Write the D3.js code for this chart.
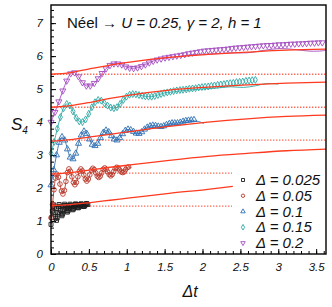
<!DOCTYPE html>
<html>
<head>
<meta charset="utf-8">
<script src="https://cdn.jsdelivr.net/npm/d3@7"></script>
<style>
  html, body { margin: 0; padding: 0; background: #fff; }
  svg { display: block; font-family: "Liberation Sans", Arial, Helvetica, sans-serif; }
</style>
</head>
<body>
<svg id="chart" width="332" height="307"></svg>
<script>
// Legend labels, colours and sampling step of each run
const deltas = ['0.025', '0.05', '0.1', '0.15', '0.2'];
const colors = ['#1c1c1c', '#b8392b', '#2f6fb3', '#2ea8a4', '#a44cbf'];
const timeSteps = [0.009, 0.0197, 0.0363, 0.0415, 0.0519];

// S_4 values (one value per time step)
const s025 = [0.9, 1.1, 1.3, 1.45, 1.49, 1.42, 1.26, 1.09, 1.02, 1.09, 1.26, 1.43, 1.5, 1.45,
  1.33, 1.21, 1.16, 1.21, 1.34, 1.46, 1.51, 1.47, 1.39, 1.31, 1.27, 1.31, 1.39, 1.47, 1.51,
  1.48, 1.43, 1.37, 1.34, 1.37, 1.43, 1.49, 1.52, 1.5, 1.46, 1.42, 1.4, 1.42, 1.46, 1.5,
  1.52, 1.51, 1.48, 1.45, 1.44, 1.45, 1.48, 1.51, 1.53, 1.52, 1.5];
const s05 = [1.1, 1.5, 1.95, 2.3, 2.42, 2.33, 2.12, 1.91, 1.82, 1.93, 2.2, 2.47, 2.58, 2.51,
  2.34, 2.17, 2.1, 2.17, 2.34, 2.51, 2.58, 2.52, 2.4, 2.27, 2.21, 2.27, 2.4, 2.54, 2.6,
  2.56, 2.46, 2.36, 2.32, 2.36, 2.46, 2.57, 2.61, 2.57, 2.49, 2.41, 2.37, 2.41, 2.5, 2.59,
  2.63, 2.61, 2.55, 2.49, 2.47, 2.49, 2.56, 2.62, 2.64];
const s1 = [2.09, 2.55, 3.0, 3.38, 3.55, 3.45, 3.18, 2.93, 2.88, 3.05, 3.35, 3.6, 3.72, 3.65,
  3.48, 3.32, 3.28, 3.35, 3.52, 3.68, 3.75, 3.7, 3.58, 3.48, 3.45, 3.52, 3.64, 3.74, 3.78,
  3.76, 3.71, 3.66, 3.65, 3.7, 3.78, 3.84, 3.88, 3.9, 3.89, 3.87, 3.86, 3.88, 3.92, 3.95,
  3.97, 3.97, 3.97, 3.99, 4.02, 4.04, 4.05, 4.06, 4.07];
const s15 = [3.05, 3.4, 3.8, 4.15, 4.42, 4.55, 4.5, 4.32, 4.13, 4.02, 4.0, 4.08, 4.25, 4.45,
  4.6, 4.67, 4.65, 4.57, 4.5, 4.44, 4.42, 4.45, 4.55, 4.67, 4.77, 4.83, 4.85, 4.84, 4.82,
  4.8, 4.78, 4.77, 4.77, 4.79, 4.82, 4.85, 4.88, 4.9, 4.92, 4.94, 4.96, 4.97, 4.98, 4.99,
  5.01, 5.02, 5.03, 5.05, 5.06, 5.07, 5.08, 5.1, 5.11, 5.13, 5.14, 5.15, 5.17, 5.18, 5.19,
  5.21, 5.22, 5.23, 5.25, 5.26, 5.27, 5.28];
const s2 = [4.0, 4.3, 4.62, 4.95, 5.25, 5.47, 5.5, 5.38, 5.2, 5.1, 5.1, 5.18, 5.32, 5.48,
  5.62, 5.72, 5.77, 5.77, 5.74, 5.68, 5.64, 5.63, 5.65, 5.69, 5.74, 5.8, 5.85, 5.89, 5.92,
  5.95, 5.97, 5.99, 6.01, 6.03, 6.05, 6.08, 6.1, 6.12, 6.14, 6.16, 6.17, 6.18, 6.19, 6.2,
  6.21, 6.22, 6.24, 6.25, 6.26, 6.27, 6.28, 6.29, 6.3, 6.31, 6.32, 6.33, 6.33, 6.34, 6.35,
  6.35, 6.36, 6.37, 6.37, 6.38, 6.38, 6.39, 6.4, 6.4, 6.41, 6.41];
const series = [s025, s05, s1, s15, s2];

// thin same-colour line: follows the markers, then goes its own way [t, S4]
const tails = [
  [],
  [[1.06, 2.62]],
  [[1.82, 4.04], [1.92, 4.03], [2.02, 3.96]],
  [[1.56, 4.9], [1.76, 4.96], [1.97, 5.0], [2.18, 5.03], [2.37, 5.07], [2.54, 5.05], [2.7, 5.1], [2.85, 5.17], [3.0, 5.15]],
  [[1.45, 5.92], [1.66, 5.98], [1.87, 6.05], [2.07, 6.06], [2.23, 6.08], [2.39, 6.1], [2.59, 6.1],
   [2.8, 6.17], [3.01, 6.23], [3.22, 6.2], [3.42, 6.15], [3.58, 6.16], [3.63, 6.18]]
];

// red trend curves
const trendT = [0, 0.26, 0.52, 0.78, 1.04, 1.56, 2.07, 2.59, 3.11, 3.63];
const trendT025 = [0, 0.26, 0.52, 0.78, 1.04, 1.56, 2.07, 2.4];
const trend025 = [1.47, 1.5, 1.56, 1.63, 1.7, 1.84, 1.96, 2.05];
const trend05 = [2.42, 2.47, 2.55, 2.63, 2.7, 2.84, 2.96, 3.05, 3.13, 3.18];
const trend1 = [3.42, 3.47, 3.55, 3.63, 3.71, 3.87, 4.0, 4.1, 4.17, 4.21];
const trend15 = [4.45, 4.5, 4.6, 4.72, 4.82, 4.97, 5.06, 5.13, 5.18, 5.21];
const trend2 = [5.45, 5.5, 5.62, 5.73, 5.82, 5.96, 6.05, 6.12, 6.18, 6.21];
const trends = [
  [trendT025, trend025], [trendT, trend05], [trendT, trend1], [trendT, trend15], [trendT, trend2]
];

// dotted reference levels and where they stop
const baseLevels = [1.45, 2.45, 3.45, 4.45, 5.45];
const baseEnds = [2.39, 2.39, 3.63, 3.63, 3.63];

const xMajor = [0, 0.5, 1, 1.5, 2, 2.5, 3, 3.5];
const yMajor = [0, 1, 2, 3, 4, 5, 6, 7];

const svg = d3.select('#chart');
const plotL = 51, plotR = 326, plotT = 5, plotB = 254;

const x = d3.scaleLinear().domain([0, 3.63]).range([plotL, plotR]);
const y = d3.scaleLinear().domain([0, 7.55]).range([plotB, plotT]);

const italic = 'italic';
const fmt = d3.format('~g');

// axes, ticks pointing inwards
svg.append('g').attr('transform', `translate(0,${plotB})`)
  .call(d3.axisBottom(x).tickValues(xMajor).tickSizeInner(-5).tickSizeOuter(0).tickPadding(9).tickFormat(fmt));
svg.append('g').attr('transform', `translate(0,${plotB})`)
  .call(d3.axisBottom(x).tickValues(d3.range(0, 3.61, 0.1)).tickSizeInner(-3).tickSizeOuter(0).tickFormat(''));
svg.append('g').attr('transform', `translate(${plotL},0)`)
  .call(d3.axisLeft(y).tickValues(yMajor).tickSizeInner(-5).tickSizeOuter(0).tickPadding(8).tickFormat(fmt));
svg.append('g').attr('transform', `translate(${plotL},0)`)
  .call(d3.axisLeft(y).tickValues(d3.range(0, 7.5, 0.2)).tickSizeInner(-3).tickSizeOuter(0).tickFormat(''));

svg.selectAll('.domain').remove();
svg.selectAll('.tick line').attr('stroke', '#000').attr('stroke-width', 1);
svg.selectAll('.tick text').attr('font-size', 11.5).attr('font-style', italic)
  .attr('font-family', '"Liberation Sans", Arial, sans-serif').attr('fill', '#111');

// dotted reference lines
baseLevels.forEach((b, i) => {
  svg.append('line')
    .attr('x1', x(0)).attr('x2', x(baseEnds[i]))
    .attr('y1', y(b)).attr('y2', y(b))
    .attr('stroke', '#ff6a55').attr('stroke-width', 1.3)
    .attr('stroke-dasharray', '1.4,1.6');
});

const line = d3.line().x(d => x(d[0])).y(d => y(d[1])).curve(d3.curveCatmullRom);
const symbols = [d3.symbolSquare, d3.symbolCircle, d3.symbolTriangle, d3.symbolDiamond, d3.symbolTriangle];
const sizes = [16, 17, 16, 14, 16];

series.forEach((vals, i) => {
  const pts = vals.map((v, k) => [k * timeSteps[i], v]);
  const tail = tails[i];
  const thin = pts.filter(p => !tail.length || p[0] < tail[0][0]).concat(tail);
  svg.append('path')
    .attr('d', line(thin))
    .attr('fill', 'none').attr('stroke', colors[i]).attr('stroke-width', 0.9);

  const sym = d3.symbol(symbols[i], sizes[i])();
  svg.append('g').selectAll('path')
    .data(pts)
    .join('path')
    .attr('transform', d => `translate(${x(d[0])},${y(d[1])})${i === 4 ? ' rotate(180)' : ''}`)
    .attr('d', sym)
    .attr('fill', 'none')
    .attr('stroke', colors[i])
    .attr('stroke-width', 0.9);
});

// red trend curves on top
const trendLine = d3.line().x(d => x(d[0])).y(d => y(d[1])).curve(d3.curveMonotoneX);
trends.forEach(([ts, vs]) => {
  svg.append('path')
    .attr('d', trendLine(ts.map((t, k) => [t, vs[k]])))
    .attr('fill', 'none').attr('stroke', '#ff3a1f').attr('stroke-width', 1.3);
});

// frame
svg.append('rect')
  .attr('x', plotL).attr('y', plotT)
  .attr('width', plotR - plotL).attr('height', plotB - plotT)
  .attr('fill', 'none').attr('stroke', '#000').attr('stroke-width', 1.4);

// title
const title = svg.append('text').attr('x', 67).attr('y', 28).attr('font-size', 15).attr('fill', '#111');
title.append('tspan').text('Néel \u2192 ');
title.append('tspan').attr('font-style', italic).text('U = 0.25, γ = 2, h = 1');

// axis titles
const yl = svg.append('text').attr('x', 11).attr('y', 130).attr('font-size', 17)
  .attr('font-style', italic).attr('fill', '#111');
yl.append('tspan').text('S');
yl.append('tspan').attr('font-size', 10).attr('dy', 4).text('4');

svg.append('text').attr('x', 190).attr('y', 297).attr('text-anchor', 'middle')
  .attr('font-size', 16).attr('font-style', italic).attr('fill', '#111').text('Δt');

// legend
const legend = svg.append('g');
deltas.forEach((d, i) => {
  const ly = 180 + i * 15.75;
  legend.append('path')
    .attr('transform', `translate(243,${ly})${i === 4 ? ' rotate(180)' : ''}`)
    .attr('d', d3.symbol(symbols[i], 9)())
    .attr('fill', 'none').attr('stroke', colors[i]).attr('stroke-width', 0.9);
  legend.append('text')
    .attr('x', 256).attr('y', ly + 5)
    .attr('font-size', 15).attr('font-style', italic).attr('fill', '#111')
    .text(`Δ = ${d}`);
});
</script>
</body>
</html>
